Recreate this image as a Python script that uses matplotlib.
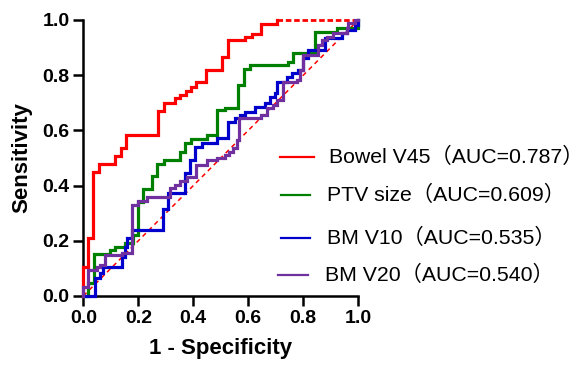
import matplotlib
matplotlib.use("Agg")
import matplotlib.pyplot as plt
from matplotlib.lines import Line2D

plt.rcParams['font.family'] = ['Liberation Sans', 'Noto Sans CJK SC', 'DejaVu Sans']

# ROC step curves (1 - specificity, sensitivity)
bowel_fpr = [0, 0, 0.017, 0.035, 0.057, 0.117, 0.137, 0.156, 0.273, 0.293,
             0.333, 0.351, 0.375, 0.393, 0.411, 0.447, 0.506, 0.527, 0.588, 0.612,
             0.645, 0.705]
bowel_tpr = [0, 0.106, 0.211, 0.45, 0.478, 0.507, 0.538, 0.583, 0.67, 0.698,
             0.716, 0.728, 0.743, 0.758, 0.776, 0.819, 0.867, 0.928, 0.94, 0.948,
             0.985, 1.0]

ptv_fpr = [0, 0.018, 0.04, 0.097, 0.115, 0.152, 0.182, 0.2, 0.216, 0.249,
           0.269, 0.293, 0.35, 0.371, 0.393, 0.449, 0.485, 0.515, 0.563, 0.584,
           0.606, 0.745, 0.761, 0.843, 0.921, 1.0]
ptv_tpr = [0, 0.048, 0.152, 0.167, 0.179, 0.193, 0.221, 0.342, 0.387, 0.435,
           0.478, 0.493, 0.523, 0.553, 0.569, 0.583, 0.675, 0.68, 0.765, 0.822,
           0.837, 0.848, 0.882, 0.955, 0.97, 1.0]

v10_fpr = [0, 0.043, 0.061, 0.073, 0.14, 0.152, 0.16, 0.176, 0.291, 0.309,
           0.37, 0.388, 0.406, 0.43, 0.485, 0.527, 0.552, 0.57, 0.588, 0.624,
           0.661, 0.679, 0.697, 0.703, 0.74, 0.758, 0.782, 0.8, 0.817, 0.879,
           0.94, 0.958, 0.988, 1.0]
v10_tpr = [0, 0.064, 0.082, 0.106, 0.142, 0.179, 0.209, 0.239, 0.314, 0.372,
           0.444, 0.493, 0.541, 0.553, 0.571, 0.632, 0.644, 0.656, 0.668, 0.686,
           0.698, 0.722, 0.734, 0.776, 0.795, 0.807, 0.819, 0.861, 0.891, 0.934,
           0.952, 0.964, 0.982, 1.0]

v20_fpr = [0, 0, 0.018, 0.049, 0.061, 0.079, 0.14, 0.176, 0.2, 0.231,
           0.315, 0.333, 0.352, 0.376, 0.41, 0.449, 0.485, 0.515, 0.53, 0.545,
           0.56, 0.567, 0.647, 0.667, 0.688, 0.706, 0.727, 0.776, 0.788, 0.8,
           0.855, 0.867, 0.885, 0.909, 0.958, 0.964, 0.988, 1.0]
v20_tpr = [0, 0.034, 0.094, 0.106, 0.112, 0.149, 0.155, 0.33, 0.345, 0.36,
           0.39, 0.402, 0.417, 0.432, 0.475, 0.493, 0.499, 0.511, 0.523, 0.535,
           0.565, 0.644, 0.656, 0.68, 0.692, 0.71, 0.776, 0.783, 0.819, 0.873,
           0.909, 0.928, 0.94, 0.952, 0.97, 0.988, 1.0, 1.0]

labels = ['Bowel V45（AUC=0.787）', 'PTV size（AUC=0.609）',
          'BM V10（AUC=0.535）', 'BM V20（AUC=0.540）']
colors = ['#ff0000', '#008000', '#0000cc', '#7030a0']
ticks = [0.0, 0.2, 0.4, 0.6, 0.8, 1.0]

fig = plt.figure(figsize=(5.81, 3.70), dpi=100)
ax = fig.add_axes([0.1434, 0.2, 0.4733, 0.746])

# reference diagonal
ax.plot([0, 1], [0, 1], color='#ff0000', lw=1.1, ls=(0, (3, 2.5)), clip_on=False, zorder=1)

curves = [(bowel_fpr, bowel_tpr), (ptv_fpr, ptv_tpr), (v10_fpr, v10_tpr), (v20_fpr, v20_tpr)]
for (fx, ty), c in zip(curves, colors):
    ax.plot(fx, ty, drawstyle='steps-post', color=c, lw=2.3, clip_on=False,
            solid_joinstyle='miter', zorder=3)

# bowel curve stays at 1.0 to the end, drawn broken in the original
ax.plot([bowel_fpr[-1], 1.0], [1.0, 1.0], color='#ff0000', lw=2.0,
        ls=(0, (2, 1)), clip_on=False, zorder=2)

ax.set_xlim(0, 1)
ax.set_ylim(0, 1)
ax.set_xticks(ticks)
ax.set_yticks(ticks)
ax.set_xticklabels([f'{t:.1f}' for t in ticks], fontweight='bold', fontsize=14)
ax.set_yticklabels([f'{t:.1f}' for t in ticks], fontweight='bold', fontsize=14)
ax.tick_params(direction='out', length=7, width=1.8, pad=3, colors='black')
ax.set_xlabel('1 - Specificity', fontweight='bold', fontsize=16, labelpad=8)
ax.set_ylabel('Sensitivity', fontweight='bold', fontsize=16, labelpad=7)

for s in ['top', 'right']:
    ax.spines[s].set_visible(False)
for s in ['left', 'bottom']:
    ax.spines[s].set_linewidth(1.8)

# hand-placed legend (pixel positions from the original, converted to figure fraction)
W, H = 581.0, 370.0
leg_rows = [(280, 314, 329, 156.5), (281, 310, 327, 195), (281, 310, 327, 237.5), (278, 308, 325, 275)]
for (x0, x1, tx, py), lab, c in zip(leg_rows, labels, colors):
    fig.add_artist(Line2D([x0 / W, x1 / W], [1 - py / H, 1 - py / H],
                          transform=fig.transFigure, color=c, lw=1.6))
    fig.text(tx / W, 1 - py / H, lab, fontsize=15.3, va='center', ha='left')

fig.savefig('out.png', dpi=100)
